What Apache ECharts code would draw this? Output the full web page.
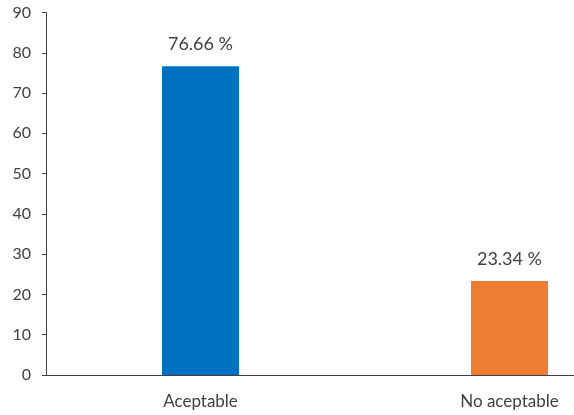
<!DOCTYPE html>
<html>
<head>
<meta charset="utf-8">
<script src="https://cdn.jsdelivr.net/npm/echarts@6/dist/echarts.min.js"></script>
<style>
html,body{margin:0;padding:0;background:#fff;overflow:hidden;width:574px;height:415px;}
#chart{width:664px;height:415px;}
</style>
</head>
<body>
<div id="chart"></div>
<script>
const categories = ["Aceptable", "No aceptable"];
const values = [76.66, 23.34];
const barColors = ["#0070C0", "#ED7D31"];
const yTicks = [0, 10, 20, 30, 40, 50, 60, 70, 80, 90];

const chart = echarts.init(document.getElementById('chart'), null, {renderer: 'canvas'});
const FONT = 'Lato';
chart.setOption({
  animation: false,
  backgroundColor: '#ffffff',
  grid: {left: 46, top: 12.5, right: 0, bottom: 40, containLabel: false, outerBoundsMode: 'none'},
  xAxis: {
    type: 'category',
    data: categories,
    axisLine: {lineStyle: {color: '#404040', width: 1}},
    axisTick: {show: false},
    axisLabel: {color: '#404040', fontFamily: FONT, fontSize: 17, margin: 18}
  },
  yAxis: {
    type: 'value',
    min: yTicks[0],
    max: yTicks[yTicks.length - 1],
    interval: 10,
    splitLine: {show: false},
    axisLine: {show: true, lineStyle: {color: '#404040', width: 1}},
    axisTick: {show: true, length: 4, lineStyle: {color: '#404040'}},
    axisLabel: {color: '#404040', fontFamily: FONT, fontSize: 16, margin: 15}
  },
  series: [{
    type: 'bar',
    barWidth: 77,
    data: values.map((v, i) => ({value: v, itemStyle: {color: barColors[i]}})),
    label: {
      show: true,
      position: 'top',
      distance: 13,
      color: '#404040',
      fontFamily: FONT,
      fontSize: 18,
      formatter: p => p.value.toFixed(2) + ' %'
    }
  }]
});
</script>
</body>
</html>
